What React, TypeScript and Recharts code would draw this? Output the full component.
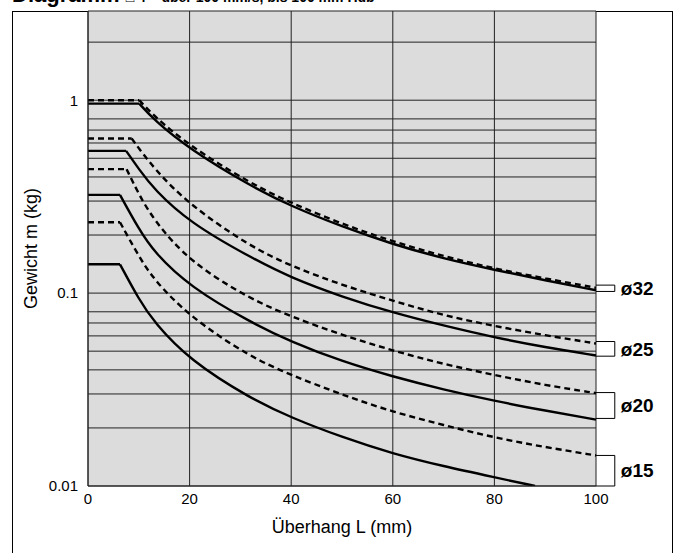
import React from "react";
import { LineChart, Line, XAxis, YAxis, CartesianGrid, ReferenceLine } from "recharts";

// axis ticks
const xTicks = [0, 20, 40, 60, 80, 100];
const yGrid = [
  0.01, 0.02, 0.03, 0.04, 0.05, 0.06, 0.07, 0.08, 0.09,
  0.1, 0.2, 0.3, 0.4, 0.5, 0.6, 0.7, 0.8, 0.9, 1, 2,
];
const yLabels = [0.01, 0.1, 1];

// ø32
const L32dash = [0, 10.1, 13, 20, 32, 40, 50, 60, 70, 80, 90, 100];
const m32dash = [1.0, 1.0, 0.825, 0.579, 0.37, 0.293, 0.228, 0.185, 0.155, 0.134, 0.119, 0.1065];
const L32solid = [0, 10.1, 13, 20, 32, 40, 50, 60, 70, 80, 90, 100];
const m32solid = [0.96, 0.96, 0.79, 0.557, 0.359, 0.282, 0.221, 0.179, 0.151, 0.132, 0.1165, 0.1035];

// ø25
const L25dash = [0, 8.6, 13, 20, 32, 40, 50, 60, 70, 80, 90, 100];
const m25dash = [0.633, 0.633, 0.44, 0.286, 0.174, 0.138, 0.11, 0.0913, 0.0765, 0.0675, 0.0604, 0.0548];
const L25solid = [0, 7.5, 10, 13, 20, 32, 40, 50, 60, 70, 80, 90, 100];
const m25solid = [0.546, 0.546, 0.44, 0.345, 0.232, 0.153, 0.12, 0.0957, 0.0792, 0.0678, 0.0589, 0.0524, 0.0475];

// ø20
const L20dash = [0, 7.6, 10, 13, 20, 32, 40, 50, 60, 70, 80, 90, 100];
const m20dash = [0.439, 0.439, 0.325, 0.238, 0.145, 0.093, 0.0755, 0.0606, 0.0503, 0.0428, 0.0376, 0.0333, 0.0303];
const L20solid = [0, 6.3, 10, 13, 20, 32, 40, 50, 60, 70, 80, 90, 100];
const m20solid = [0.323, 0.323, 0.215, 0.163, 0.108, 0.0705, 0.0559, 0.0442, 0.0369, 0.0316, 0.0276, 0.0246, 0.0221];

// ø15
const L15dash = [0, 6.3, 10, 13, 20, 32, 40, 50, 60, 70, 80, 90, 100];
const m15dash = [0.233, 0.233, 0.155, 0.117, 0.0754, 0.0465, 0.0376, 0.0297, 0.0242, 0.0207, 0.0178, 0.0159, 0.0144];
const L15solid = [0, 6.3, 10, 13, 20, 32, 40, 50, 60, 70, 80, 88];
const m15solid = [0.141, 0.141, 0.093, 0.0705, 0.0449, 0.0284, 0.0226, 0.0179, 0.0147, 0.01265, 0.0111, 0.01];

// brackets at the right edge
const boreNames = ["ø32", "ø25", "ø20", "ø15"];
const bracketTop = [0.11, 0.0561, 0.0305, 0.0144];
const bracketBottom = [0.102, 0.0471, 0.0224, 0.01];

const curves = [
  { key: "32d", L: L32dash, m: m32dash, dashed: true },
  { key: "32s", L: L32solid, m: m32solid, dashed: false },
  { key: "25d", L: L25dash, m: m25dash, dashed: true },
  { key: "25s", L: L25solid, m: m25solid, dashed: false },
  { key: "20d", L: L20dash, m: m20dash, dashed: true },
  { key: "20s", L: L20solid, m: m20solid, dashed: false },
  { key: "15d", L: L15dash, m: m15dash, dashed: true },
  { key: "15s", L: L15solid, m: m15solid, dashed: false },
];

const toPoints = (L: number[], m: number[]) => L.map((x, i) => ({ L: x, m: m[i] }));

const FONT = "'Liberation Sans', Arial, sans-serif";
const BRACKET_END = 103.7;

export default function App() {
  const lines: React.ReactNode[] = [];
  curves.forEach((c) => {
    const pts = toPoints(c.L, c.m);
    const common = {
      dataKey: "m",
      stroke: "#000",
      strokeWidth: 2.4,
      strokeDasharray: c.dashed ? "6 4" : undefined,
      dot: false,
      activeDot: false,
      isAnimationActive: false,
    };
    // flat part up to the knee, then the falling curve
    lines.push(<Line key={c.key + "f"} {...common} data={pts.slice(0, 2)} type="linear" />);
    lines.push(<Line key={c.key + "c"} {...common} data={pts.slice(1)} type="basis" />);
  });

  const brackets: React.ReactNode[] = [];
  boreNames.forEach((name, i) => {
    const t = bracketTop[i];
    const b = bracketBottom[i];
    brackets.push(
      <ReferenceLine key={name + "t"} segment={[{ x: 100, y: t }, { x: BRACKET_END, y: t }]} stroke="#000" ifOverflow="visible" />,
      <ReferenceLine key={name + "b"} segment={[{ x: 100, y: b }, { x: BRACKET_END, y: b }]} stroke="#000" ifOverflow="visible" />,
      <ReferenceLine
        key={name + "v"}
        segment={[{ x: BRACKET_END, y: t }, { x: BRACKET_END, y: b }]}
        stroke="#000"
        ifOverflow="visible"
        label={{ value: name, position: "right", offset: 6, fill: "#000", fontSize: 19, fontWeight: "bold", fontFamily: FONT }}
      />
    );
  });

  return (
    <div style={{ position: "absolute", left: 0, top: 0, width: 676, height: 553, overflow: "hidden", background: "#fff", fontFamily: FONT }}>
      <div style={{ position: "absolute", left: 12, top: -18, fontWeight: "bold", fontSize: 22, whiteSpace: "nowrap" }}>
        Diagramm <span style={{ fontSize: 14 }}>□ 4 – über 100 mm/s, bis 100 mm Hub</span>
      </div>
      <div style={{ position: "absolute", left: 610, top: -14, fontWeight: "bold", fontSize: 16 }}>CXS32</div>
      <div style={{ position: "absolute", left: 12, top: 11, width: 659, height: 600, border: "1px solid #000" }} />
      <div style={{ position: "absolute", left: 0, top: 0 }}>
        <LineChart width={676} height={553} margin={{ top: 11, right: 80, bottom: 37, left: 0 }}>
          <CartesianGrid fill="#dcdcdc" stroke="#222" strokeWidth={1} />
          <XAxis
            type="number"
            dataKey="L"
            domain={[0, 100]}
            ticks={xTicks}
            height={30}
            axisLine={{ stroke: "#222" }}
            tickLine={false}
            tickSize={0}
            tickMargin={7}
            tick={{ fill: "#000", fontSize: 15, fontFamily: FONT }}
            label={{
              content: (p: any) => {
                const vb = p.viewBox;
                return (
                  <text x={vb.x + vb.width / 2} y={527} textAnchor="middle" dominantBaseline="central" fontSize={18} fontFamily={FONT} fill="#000">
                    Überhang L (mm)
                  </text>
                );
              },
            }}
          />
          <YAxis
            type="number"
            scale="log"
            domain={[0.01, 2.9]}
            allowDataOverflow
            ticks={yGrid}
            width={88}
            axisLine={{ stroke: "#222" }}
            tickLine={false}
            tickSize={0}
            tickMargin={10}
            tickFormatter={(v: number) => (yLabels.includes(v) ? String(v) : "")}
            tick={{ fill: "#000", fontSize: 15, fontFamily: FONT }}
            label={{
              content: (p: any) => {
                const vb = p.viewBox;
                const cy = vb.y + vb.height / 2;
                return (
                  <text x={31} y={cy} transform={`rotate(-90, 31, ${cy})`} textAnchor="middle" dominantBaseline="central" fontSize={18} fontFamily={FONT} fill="#000">
                    Gewicht m (kg)
                  </text>
                );
              },
            }}
          />
          {lines}
          {brackets}
        </LineChart>
      </div>
    </div>
  );
}
